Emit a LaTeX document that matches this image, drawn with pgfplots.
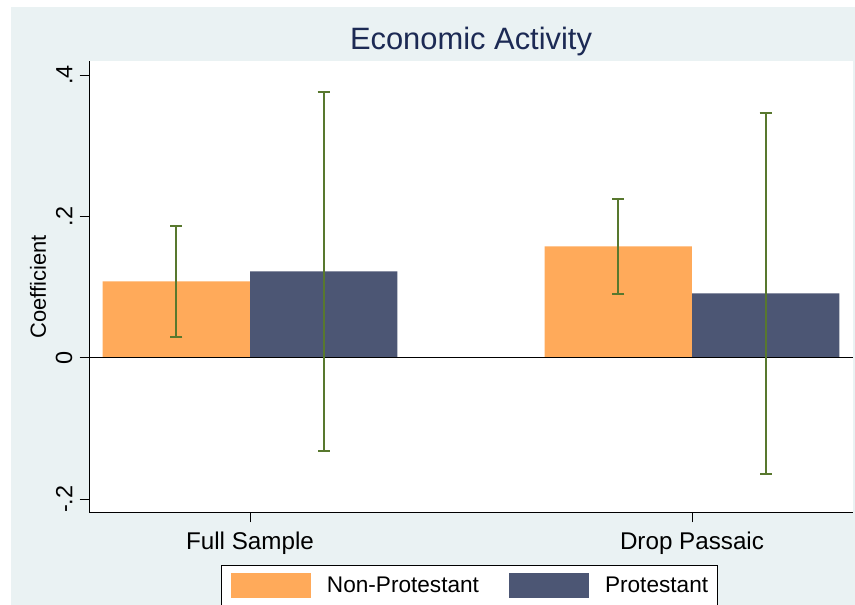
\documentclass[border=0pt]{standalone}
\usepackage{fontspec}
\setmainfont{Liberation Sans}
\usepackage{pgfplots}
\pgfplotsset{compat=1.18}

\definecolor{plotbg}{RGB}{234,242,243}
\definecolor{nonprot}{RGB}{255,170,90}
\definecolor{prot}{RGB}{76,86,116}
\definecolor{cigreen}{RGB}{88,120,46}
\definecolor{titlenavy}{RGB}{28,42,84}

\pgfplotsset{
  swatch/.style={legend image code/.code={\fill[##1] (0bp,-12.5bp) rectangle (80bp,12.5bp);}},
  cibar/.style={draw=none, no markers, forget plot,
    error bars/.cd, y dir=both, y explicit,
    error bar style={draw=cigreen, line width=2bp, solid},
    error mark options={rotate=90, mark size=6bp, line width=2bp, draw=cigreen}},
}

\begin{document}
\begin{tikzpicture}[x=1bp,y=1bp]
\fill[white] (0,0) rectangle (855,605);
\fill[plotbg] (11,0) rectangle (855,598);
\useasboundingbox (0,0) rectangle (855,605);
\begin{axis}[
  at={(89bp,92bp)}, anchor=south west,
  scale only axis, width=764bp, height=452bp,
  xmin=0.6357, xmax=2.3643,
  ymin=-0.2194, ymax=0.4198,
  axis lines*=left,
  axis line style={black, line width=1bp, -},
  axis background/.style={fill=white},
  tick align=outside,
  major tick length=9.5bp,
  tick style={black, line width=0.9bp},
  xtick={1,2}, xticklabels={Full Sample, Drop Passaic},
  ytick={-0.2,0,0.2,0.4}, yticklabels={-.2,0,.2,.4},
  tick label style={font=\fontsize{24.3}{26}\selectfont, black},
  % rotated labels: a positive yshift moves them away from the axis
  yticklabel style={rotate=90, anchor=south, inner sep=0pt, yshift=7bp,
    font=\fontsize{23.5}{26}\selectfont},
  xticklabel style={anchor=north, inner sep=0pt, yshift=-9.5bp},
  ylabel={Coefficient},
  every axis y label/.style={at={(axis description cs:-0.0668,0.5)}, rotate=90, anchor=center,
    font=\fontsize{22}{24}\selectfont},
  title={Economic Activity},
  every axis title/.style={at={(axis description cs:0.5,1)}, anchor=base, yshift=11bp,
    font=\fontsize{31}{33}\selectfont, color=titlenavy},
  legend columns=2,
  legend style={at={(axis description cs:0.1728,-0.1150)}, anchor=north west,
    draw=black, line width=0.8bp, fill=white,
    inner xsep=9.5bp, inner ysep=7.5bp,
    font=\fontsize{22.7}{24}\selectfont,
    nodes={inner sep=0pt, anchor=west},
    /tikz/every odd column/.append style={column sep=16bp},
    /tikz/every even column/.append style={column sep=30bp}},
  legend cell align=left,
]
% bars
\addplot[ybar, bar width=0.3333, bar shift=0pt, fill=nonprot, draw=none, swatch]
  coordinates {(0.8333,0.1080) (1.8333,0.1575)};
\addlegendentry{Non-Protestant}
\addplot[ybar, bar width=0.3333, bar shift=0pt, fill=prot, draw=none, swatch]
  coordinates {(1.1667,0.1223) (2.1667,0.0910)};
\addlegendentry{Protestant}
% zero line
\addplot[black, line width=1.3bp, forget plot] coordinates {(0.6357,0) (2.3643,0)};
% confidence intervals
\addplot[cibar] coordinates {
  (0.8333,0.1080) +- (0,0.0780)
  (1.8333,0.1575) +- (0,0.0676)
};
\addplot[cibar] coordinates {
  (1.1667,0.1223) +- (0,0.2537)
  (2.1667,0.0910) +- (0,0.2558)
};
\end{axis}
\end{tikzpicture}
\end{document}
